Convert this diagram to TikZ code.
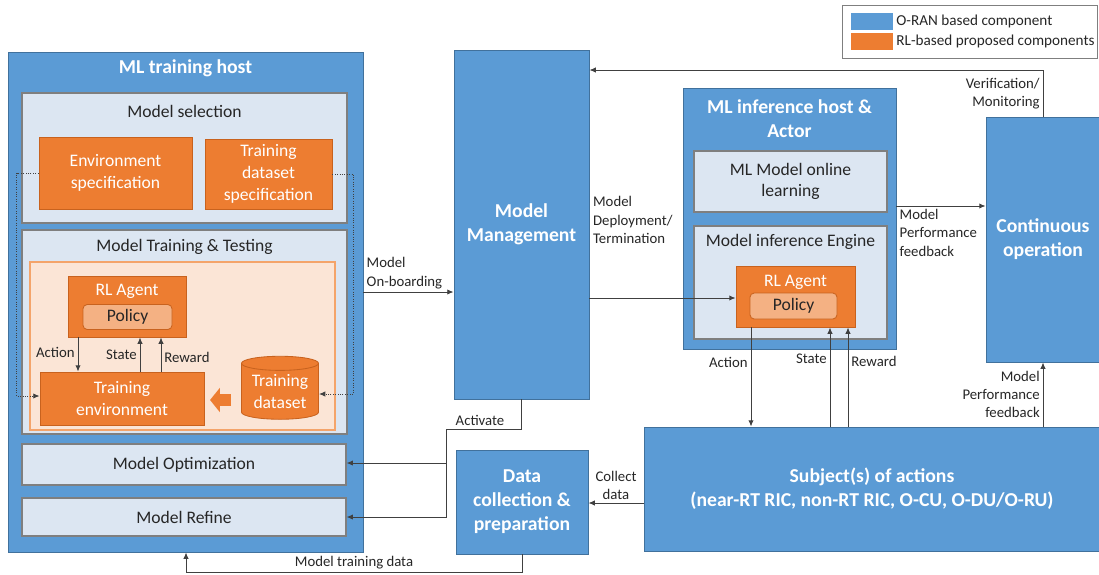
\documentclass[tikz,border=0pt]{standalone}
\usepackage{fontspec}
\setmainfont{Carlito}
\usepackage{tikz}
\usetikzlibrary{arrows.meta,shapes.geometric,positioning}

\definecolor{oranblue}{HTML}{5B9BD5}
\definecolor{oranedge}{HTML}{41719C}
\definecolor{panfill}{HTML}{DCE6F2}
\definecolor{panedge}{HTML}{7F7F7F}
\definecolor{rlorange}{HTML}{ED7D31}
\definecolor{rledge}{HTML}{C8621E}
\definecolor{peach}{HTML}{FBE5D6}
\definecolor{peachedge}{HTML}{F4A46A}
\definecolor{policyfill}{HTML}{F4B183}
\definecolor{inktext}{HTML}{262626}
\definecolor{linegray}{HTML}{404040}

\begin{document}
\begin{tikzpicture}[
    x=0.025cm,y=-0.025cm,
    >={Latex[length=4.5pt,width=3.8pt]},
    wh/.style 2 args={minimum width=#1*0.025cm,minimum height=#2*0.025cm},
    oran/.style={draw=oranedge,line width=0.6pt,fill=oranblue,text=white,align=center,inner sep=0pt,font=\bfseries\fontsize{14}{17}\selectfont},
    hosttitle/.style={text=white,align=center,inner sep=0pt,font=\bfseries\fontsize{14}{17.5}\selectfont},
    panel/.style={draw=panedge,line width=0.8pt,fill=panfill,text=inktext,align=center,inner sep=0pt,font=\fontsize{12.5}{15}\selectfont},
    paneltitle/.style={text=inktext,inner sep=0pt,font=\fontsize{12.5}{15}\selectfont},
    rlbox/.style={draw=rledge,line width=0.6pt,fill=rlorange,text=white,align=center,inner sep=0pt,font=\fontsize{12.5}{15.5}\selectfont},
    rltitle/.style={text=white,inner sep=0pt,font=\fontsize{12.5}{15}\selectfont},
    policybox/.style={rlbox,rounded corners=3pt,fill=policyfill,text=inktext},
    lbl/.style={text=inktext,inner sep=2pt,font=\fontsize{10.5}{13}\selectfont},
    flow/.style={draw=linegray,line width=0.7pt,->},
    dotflow/.style={flow,densely dotted},
    fatarrow/.style={draw=rlorange,line width=8.5pt,-{Triangle[length=7pt,width=17pt]}}
]
\useasboundingbox (0,0) rectangle (1099,574);

% legend
\node[draw=panedge,line width=0.6pt,wh={255}{53}] (leg) at (969.5,31.5) {};
\node[fill=oranblue,wh={42}{17},inner sep=0pt] (legB) at (872,21) {};
\node[fill=rlorange,wh={42}{17},inner sep=0pt] (legO) at (872,41) {};
\node[lbl,anchor=west,font=\fontsize{10.8}{13}\selectfont] (legBt) at (legB.east) {O-RAN based component};
\node[lbl,anchor=west,font=\fontsize{10.8}{13}\selectfont] (legOt) at (legO.east) {RL-based proposed components};

% ML training host
\node[oran,wh={355}{500}] (TH) at (185.5,302) {};
\node[hosttitle] (THt) at (185.5,68) {ML training host};
\node[panel,wh={325}{130}] (MS) at (184.5,158) {};
\node[paneltitle] (MSt) at (184.5,111) {Model selection};
\node[rlbox,wh={153}{72}] (ES) at (115.5,173) {Environment\\specification};
\node[rlbox,wh={127}{70}] (DS) at (268.5,174) {Training\\dataset\\specification};
\node[panel,wh={325}{204}] (MT) at (184.5,332) {};
\node[paneltitle] (MTt) at (184.5,247) {Model Training \& Testing};
\node[draw=peachedge,line width=0.8pt,fill=peach,wh={305}{168}] (PE) at (182.5,346) {};
\node[rlbox,wh={118}{61}] (AgL) at (127,306.5) {};
\node[rltitle] (AgLt) at (127,291) {RL Agent};
\node[policybox,wh={89}{25}] (PoL) at (127.5,317) {Policy};
\node[rlbox,wh={164}{53}] (EnvL) at (122,398.5) {Training\\environment};
\node[rlbox,cylinder,shape border rotate=90,aspect=0.25,wh={77}{63}] (DB) at (280,391.5) {Training\\dataset};
\node[panel,wh={324}{41}] (MO) at (184,464.5) {Model Optimization};
\node[panel,wh={324}{38}] (MR) at (184,517) {Model Refine};

% O-RAN blocks
\node[oran,wh={135}{349}] (MM) at (521.5,224.5) {Model\\Management};
\node[oran,wh={132}{104}] (DC) at (522,502) {Data\\collection \&\\preparation};
\node[oran,wh={213}{261}] (IH) at (789.5,218.5) {};
\node[hosttitle] (IHt) at (789.5,118.5) {ML inference host \&\\Actor};
\node[panel,wh={193}{61}] (OL) at (790.5,181.5) {ML Model online\\learning};
\node[panel,wh={193}{113}] (IE) at (790.5,282.5) {};
\node[paneltitle] (IEt) at (790.5,242) {Model inference Engine};
\node[rlbox,wh={119}{61}] (AgR) at (795.5,296.5) {};
\node[rltitle] (AgRt) at (795.5,282) {RL Agent};
\node[policybox,wh={87}{26}] (PoR) at (793.5,306) {Policy};
\node[oran,wh={114}{245}] (CO) at (1043,239.5) {Continuous\\operation};
\node[oran,wh={456}{124}] (SA) at (872,489) {Subject(s) of actions\\(near-RT RIC, non-RT RIC, O-CU, O-DU/O-RU)};

% inner loop of the training host
\draw[flow] (AgL.south -| 78,0) -- (EnvL.north -| 78,0) node[pos=0.45,left,lbl]{Action};
\draw[flow] (EnvL.north -| 140,0) -- (AgL.south -| 140,0) node[pos=0.5,left,lbl]{State};
\draw[flow] (EnvL.north -| 161,0) -- (AgL.south -| 161,0) node[pos=0.4,right,lbl]{Reward};
\draw[fatarrow,shorten <=7pt,shorten >=4pt] (DB.west |- 0,400) -- (EnvL.east |- 0,400);
\draw[dotflow] (ES.west) -- ++(-22,0) |- (EnvL.west |- 0,396);
\draw[dotflow] (DS.east) -- ++(21,0) |- (DB.east |- 0,394);

% connectors between blocks
\draw[flow] (TH.east |- 0,292) -- (MM.west |- 0,292) node[pos=0,anchor=south west,lbl,align=left]{Model\\On-boarding};
\draw[flow] (CO.north) -- (CO.north |- 0,70) node[midway,left,lbl,align=right]{Verification/\\Monitoring} -- (MM.east |- 0,70);
\draw[flow] (MM.east |- 0,298) -- (AgR.west |- 0,298);
\node[lbl,anchor=west,align=left] (DepL) at (590,220) {Model\\Deployment/\\Termination};
\draw[flow] (IH.east |- 0,206) -- (CO.west |- 0,206) node[pos=0,below right,lbl,align=left]{Model\\Performance\\feedback};
\draw[flow] (AgR.south -| 751,0) -- (SA.north -| 751,0) node[pos=0.35,left,lbl]{Action};
\draw[flow] (SA.north -| 830,0) -- (AgR.south -| 830,0) node[pos=0.68,left,lbl]{State};
\draw[flow] (SA.north -| 848,0) -- (AgR.south -| 848,0) node[pos=0.66,right,lbl]{Reward};
\draw[flow] (SA.north -| 1043,0) -- (CO.south -| 1043,0) node[midway,left,lbl,align=right]{Model\\Performance\\feedback};
\draw[flow] (SA.west |- 0,503) -- (DC.east |- 0,503) node[midway,above,lbl,align=center]{Collect\\data};
\coordinate (split) at (446,463);
\draw[flow] (MM.south) -- (MM.south |- 0,429) -- (446,429) node[pos=0.55,above,lbl]{Activate} -- (446,517) -- (MR.east |- 0,517);
\draw[flow] (split) -- (MO.east |- split);
\draw[flow] (DC.south) -- (DC.south |- 0,572) -- (186,572) node[midway,above,lbl]{Model training data} -- (TH.south -| 186,0);
\end{tikzpicture}
\end{document}
